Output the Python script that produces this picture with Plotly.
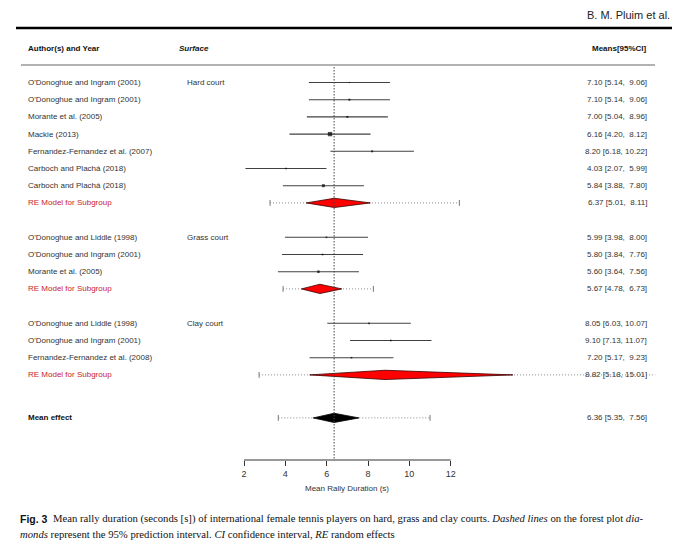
import plotly.graph_objects as go

# Study estimates (mean rally duration, seconds)
hard_authors = ["O'Donoghue and Ingram (2001)", "O'Donoghue and Ingram (2001)",
                "Morante et al. (2005)", "Mackie (2013)",
                "Fernandez-Fernandez et al. (2007)", "Carboch and Plachá (2018)",
                "Carboch and Plachá (2018)"]
hard_means = [7.10, 7.10, 7.00, 6.16, 8.20, 4.03, 5.84]
hard_lower = [5.14, 5.14, 5.04, 4.20, 6.18, 2.07, 3.88]
hard_upper = [9.06, 9.06, 8.96, 8.12, 10.22, 5.99, 7.80]
hard_weights = [7, 12, 12, 26, 12, 10, 18]

grass_authors = ["O'Donoghue and Liddle (1998)", "O'Donoghue and Ingram (2001)",
                 "Morante et al. (2005)"]
grass_means = [5.99, 5.80, 5.60]
grass_lower = [3.98, 3.84, 3.64]
grass_upper = [8.00, 7.76, 7.56]
grass_weights = [10, 10, 15]

clay_authors = ["O'Donoghue and Liddle (1998)", "O'Donoghue and Ingram (2001)",
                "Fernandez-Fernandez et al. (2008)"]
clay_means = [8.05, 9.10, 7.20]
clay_lower = [6.03, 7.13, 5.17]
clay_upper = [10.07, 11.07, 9.23]
clay_weights = [10, 10, 10]

# Subgroup random-effects models
surfaces = ["Hard court", "Grass court", "Clay court"]
re_means = [6.37, 5.67, 8.82]
re_lower = [5.01, 4.78, 5.18]
re_upper = [8.11, 6.73, 15.01]
pi_lower = [3.26, 3.89, 2.73]
pi_upper = [12.42, 8.26, 21.9]

# Overall model
overall_mean = 6.36
overall_lower = 5.35
overall_upper = 7.56
overall_pi_lower = 3.66
overall_pi_upper = 11.0

x_ticks = [2, 4, 6, 8, 10, 12]

# the page body has an 8px margin, so the figure is a little smaller than the window
OFF = 8
W, H = 680 - 2 * OFF, 549 - 2 * OFF
AXIS_Y = 460            # window pixel row of the x axis line
ROW1_Y = 82.5           # window pixel row of the first study
ROW_H = 17.2
X2_PX, PX_PER_UNIT = 244, 20.67
PLOT_BOTTOM = AXIS_Y - OFF
TEXT = "#333333"
RED_TEXT = "#c8232c"
SANS = "Liberation Sans, Arial, sans-serif"
SERIF = "Liberation Serif, Times New Roman, serif"


def px(p):
    return (p - OFF) / W


def py(p):
    return (PLOT_BOTTOM - (p - OFF)) / PLOT_BOTTOM


def ci_label(m, lo, hi):
    hi_s = "%.2f" % hi
    pad = "\u00a0" * (2 if len(hi_s) == 4 else 1)
    return "%.2f [%.2f,%s%s]" % (m, lo, pad, hi_s)


def label(x, y, text, anchor="left", color=TEXT, size=8, family=SANS, yref="y"):
    return dict(x=x, y=y, xref="paper", yref=yref, text=text, xanchor=anchor,
                yanchor="middle", showarrow=False,
                font=dict(family=family, size=size, color=color))


groups = [
    (hard_authors, hard_means, hard_lower, hard_upper, hard_weights),
    (grass_authors, grass_means, grass_lower, grass_upper, grass_weights),
    (clay_authors, clay_means, clay_lower, clay_upper, clay_weights),
]

fig = go.Figure()
annotations = []

ci_x, ci_y = [], []
sq_x, sq_y, sq_size = [], [], []
pi_x, pi_y = [], []
tick_x, tick_y = [], []
diamonds = []

row = 1
for g, (authors, means, lower, upper, weights) in enumerate(groups):
    for i in range(len(authors)):
        ci_x += [lower[i], upper[i], None]
        ci_y += [row, row, None]
        sq_x.append(means[i])
        sq_y.append(row)
        sq_size.append(weights[i] / 6)
        annotations.append(label(px(26), row, authors[i]))
        annotations.append(label(px(649), row, ci_label(means[i], lower[i], upper[i]), "right"))
        if i == 0:
            annotations.append(label(px(185), row, surfaces[g]))
        row += 1
    # subgroup model row
    pi_x += [pi_lower[g], pi_upper[g], None]
    pi_y += [row, row, None]
    for end in (pi_lower[g], pi_upper[g]):
        if end < 20:
            tick_x += [end, end, None]
            tick_y += [row - 0.17, row + 0.17, None]
    diamonds.append((re_lower[g], re_means[g], re_upper[g], row, "red"))
    annotations.append(label(px(26), row, "RE Model for Subgroup", color=RED_TEXT))
    annotations.append(label(px(649), row, ci_label(re_means[g], re_lower[g], re_upper[g]), "right"))
    row += 2

overall_row = row - 2 + 2.5
pi_x += [overall_pi_lower, overall_pi_upper, None]
pi_y += [overall_row, overall_row, None]
for end in (overall_pi_lower, overall_pi_upper):
    tick_x += [end, end, None]
    tick_y += [overall_row - 0.17, overall_row + 0.17, None]
diamonds.append((overall_lower, overall_mean, overall_upper, overall_row, "black"))
annotations.append(label(px(26), overall_row, "<b>Mean effect</b>", color="#111111"))
annotations.append(label(px(649), overall_row,
                         ci_label(overall_mean, overall_lower, overall_upper), "right"))

# prediction intervals (fine dotted) with end ticks
fig.add_trace(go.Scatter(x=pi_x, y=pi_y, mode="lines",
                         line=dict(color="#8a8a8a", width=1, dash="1px,2px"), hoverinfo="skip"))
fig.add_trace(go.Scatter(x=tick_x, y=tick_y, mode="lines",
                         line=dict(color="#777777", width=1), hoverinfo="skip"))

# study confidence intervals and squares
fig.add_trace(go.Scatter(x=ci_x, y=ci_y, mode="lines",
                         line=dict(color="#404040", width=1.1), hoverinfo="skip"))
fig.add_trace(go.Scatter(x=sq_x, y=sq_y, mode="markers",
                         marker=dict(symbol="square", size=sq_size, color="black", line=dict(width=0))))

# diamonds for the model estimates
for lo, m, hi, r, col in diamonds:
    fig.add_trace(go.Scatter(x=[lo, m, hi, m, lo], y=[r, r - 0.27, r, r + 0.27, r],
                             mode="lines", fill="toself", fillcolor=col,
                             line=dict(color="#3a0000" if col == "red" else "black", width=0.8),
                             hoverinfo="skip"))

# reference line at the overall mean
fig.add_trace(go.Scatter(x=[overall_mean, overall_mean],
                         y=[0.1, 1 + (AXIS_Y - ROW1_Y) / ROW_H], mode="lines",
                         line=dict(color="#444444", width=1, dash="1.5px,1.5px"), hoverinfo="skip"))

# x axis line from the first to the last tick
fig.add_shape(type="line", xref="x", yref="paper", x0=x_ticks[0], x1=x_ticks[-1], y0=0, y1=0,
              line=dict(color="#333333", width=1))

# header rows and page decoration
fig.add_shape(type="line", xref="paper", yref="paper", x0=px(16), x1=px(672), y0=py(28), y1=py(28),
              line=dict(color="black", width=2.5))
fig.add_shape(type="line", xref="paper", yref="paper", x0=px(21), x1=px(655), y0=py(65), y1=py(65),
              line=dict(color="#999999", width=1.5))
annotations += [
    label(px(672), py(15), "B. M. Pluim et al.", "right", "#222222", 11, yref="paper"),
    label(px(26), py(49), "<b>Author(s) and Year</b>", color="#111111", yref="paper"),
    label(px(177), py(49), "<b><i>Surface</i></b>", color="#111111", yref="paper"),
    label(px(649), py(49), "<b>Means[95%CI]</b>", "right", "#111111", yref="paper"),
    dict(x=(x_ticks[0] + x_ticks[-1]) / 2, y=py(489), xref="x", yref="paper",
         text="Mean Rally Duration (s)", showarrow=False, xanchor="center", yanchor="middle",
         font=dict(family=SANS, size=8, color=TEXT)),
    label(px(18), py(519), "<b>Fig. 3</b>", color="#111111", size=10.5, yref="paper"),
    label(px(51), py(519),
          "Mean rally duration (seconds [s]) of international female tennis players on hard, "
          "grass and clay courts. <i>Dashed lines</i> on the forest plot <i>dia-</i>",
          color="#111111", size=10.7, family=SERIF, yref="paper"),
    label(px(18), py(534),
          "<i>monds</i> represent the 95% prediction interval. <i>CI</i> confidence interval, "
          "<i>RE</i> random effects",
          color="#111111", size=10.7, family=SERIF, yref="paper"),
]

fig.update_layout(
    width=W, height=H,
    margin=dict(l=0, r=0, t=0, b=H - PLOT_BOTTOM),
    paper_bgcolor="white", plot_bgcolor="white",
    showlegend=False,
    annotations=annotations,
    xaxis=dict(range=[2 - (X2_PX - OFF) / PX_PER_UNIT, 2 + (W + OFF - X2_PX) / PX_PER_UNIT],
               tickvals=x_ticks,
               ticks="outside", ticklen=5, tickcolor="#333333",
               tickfont=dict(family=SANS, size=9, color=TEXT),
               showgrid=False, zeroline=False, showline=False, fixedrange=True),
    yaxis=dict(range=[1 + (AXIS_Y - ROW1_Y) / ROW_H, 1 - (ROW1_Y - OFF) / ROW_H], visible=False,
               showgrid=False, zeroline=False, fixedrange=True),
)

fig.write_html("out.html")
